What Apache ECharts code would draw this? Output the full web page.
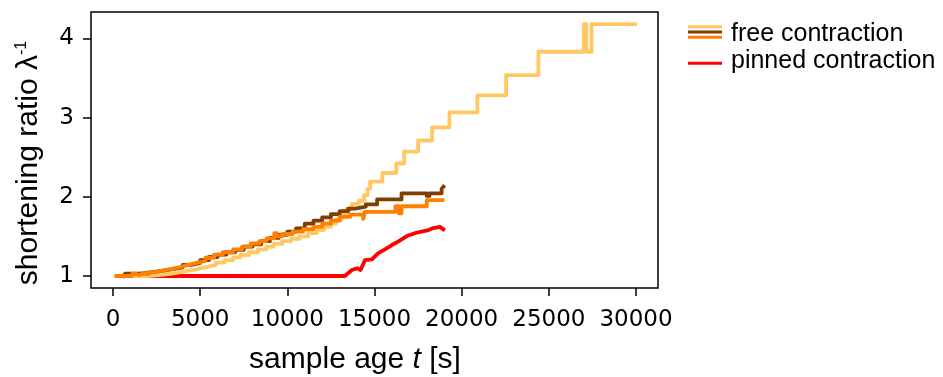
<!DOCTYPE html>
<html><head><meta charset="utf-8">
<script src="https://cdn.jsdelivr.net/npm/echarts@6/dist/echarts.min.js"></script>
<style>html,body{margin:0;padding:0;background:#fff}#c{width:943px;height:377px}</style>
</head><body><div id="c"></div>
<script>
// ---- data ----
const xTicks = [0, 5000, 10000, 15000, 20000, 25000, 30000];
const yTicks = [1, 2, 3, 4];

// free contraction (light yellow)
const yelT = [200, 2000, 2800, 3400, 3900, 4400, 4900, 5400, 5900, 6400, 6900, 7300, 7800, 8300, 8800, 9200, 9700, 10200, 10700, 11200, 11700, 12100, 12500, 12800, 13100, 13400, 13700, 14100, 14400, 14600, 14750, 15450, 16250, 16700, 17500, 18300, 19300, 20900, 22550, 24400, 27000, 27150, 27450, 29950];
const yelR = [1.00, 1.015, 1.03, 1.05, 1.07, 1.09, 1.115, 1.14, 1.17, 1.20, 1.235, 1.265, 1.30, 1.335, 1.37, 1.405, 1.44, 1.47, 1.50, 1.54, 1.58, 1.62, 1.66, 1.71, 1.78, 1.85, 1.91, 1.95, 2.02, 2.10, 2.19, 2.30, 2.42, 2.57, 2.71, 2.875, 3.065, 3.28, 3.535, 3.83, 4.18, 3.83, 4.18, 4.18];

// free contraction (brown)
const brT = [600, 700, 1500, 2000, 2500, 3000, 3500, 4000, 4500, 5000, 5500, 6000, 6500, 7000, 7500, 8000, 8500, 9000, 9500, 10000, 10500, 11000, 11500, 12000, 12500, 13000, 13500, 13900, 14500, 15150, 16550, 18000, 18150, 18850, 18950];
const brR = [1.00, 1.03, 1.04, 1.055, 1.07, 1.09, 1.11, 1.14, 1.165, 1.20, 1.24, 1.27, 1.30, 1.33, 1.37, 1.40, 1.44, 1.48, 1.52, 1.56, 1.60, 1.66, 1.70, 1.74, 1.78, 1.82, 1.85, 1.875, 1.904, 1.967, 2.043, 2.01, 2.043, 2.10, 2.127];

// free contraction (orange)
const orT = [200, 1100, 1300, 1500, 1700, 2000, 2400, 2900, 3400, 3900, 4300, 4800, 5300, 5800, 6300, 6900, 7400, 7900, 8400, 8800, 9250, 9400, 9700, 10300, 10900, 11500, 12000, 12500, 13000, 13600, 14350, 14450, 16200, 16400, 16550, 18000, 18900];
const orR = [1.00, 1.03, 1.01, 1.035, 1.02, 1.05, 1.07, 1.09, 1.115, 1.14, 1.165, 1.19, 1.23, 1.27, 1.30, 1.335, 1.37, 1.41, 1.44, 1.475, 1.54, 1.50, 1.53, 1.56, 1.59, 1.62, 1.66, 1.70, 1.745, 1.775, 1.72, 1.81, 1.88, 1.79, 1.88, 1.958, 1.958];

// pinned contraction (red)
const redT = [1000, 13300, 13700, 14000, 14200, 14450, 14850, 15200, 15600, 16000, 16400, 16850, 17400, 18100, 18300, 18750, 18800, 18950];
const redR = [1.00, 1.00, 1.076, 1.097, 1.076, 1.20, 1.21, 1.286, 1.337, 1.391, 1.441, 1.504, 1.546, 1.58, 1.60, 1.62, 1.643, 1.589];

const C_YEL = '#ffc864', C_BRN = '#7f3f00', C_ORG = '#ff8000', C_RED = '#ff0000';
const pairs = (t, r) => t.map((v, i) => [v, r[i]]);
const lineSeries = (name, t, r, color, step) => ({
  name, type: 'line', data: pairs(t, r), step: step ? 'end' : false,
  symbol: 'none', showSymbol: false, silent: true, animation: false,
  lineStyle: { color, width: 3.8, join: 'round', cap: 'square' }, itemStyle: { color }
});

const chart = echarts.init(document.getElementById('c'), null, { renderer: 'canvas' });
const TXT = '"Liberation Sans", Arial, Helvetica, sans-serif';
const TICKF = '"DejaVu Sans", "Bitstream Vera Sans", sans-serif';
chart.setOption({
  animation: false,
  backgroundColor: '#fff',
  grid: { left: 91, right: 285, top: 12, bottom: 89, show: true, borderColor: '#000', borderWidth: 1.5, backgroundColor: 'transparent' },
  xAxis: {
    type: 'value', min: -1262, max: 31262,
    axisLine: { show: false, onZero: false }, splitLine: { show: false },
    axisTick: { show: true, length: 8, lineStyle: { color: '#000', width: 1.5 }, customValues: xTicks },
    axisLabel: { customValues: xTicks, margin: 21, color: '#000', fontFamily: TICKF, fontSize: 23, formatter: v => String(v) }
  },
  yAxis: {
    type: 'value', min: 0.8485, max: 4.332,
    axisLine: { show: false, onZero: false }, splitLine: { show: false },
    axisTick: { show: true, length: 8, lineStyle: { color: '#000', width: 1.5 }, customValues: yTicks },
    axisLabel: { customValues: yTicks, margin: 17, color: '#000', fontFamily: TICKF, fontSize: 23, formatter: v => String(v) }
  },
  series: [
    lineSeries('pinned contraction', redT, redR, C_RED, false),
    lineSeries('free contraction', yelT, yelR, C_YEL, true),
    lineSeries('free contraction', brT, brR, C_BRN, true),
    lineSeries('free contraction', orT, orR, C_ORG, true)
  ],
  graphic: [
    { type: 'line', shape: { x1: 688, y1: 26.7, x2: 722, y2: 26.7 }, style: { stroke: C_YEL, lineWidth: 3 } },
    { type: 'line', shape: { x1: 688, y1: 32, x2: 722, y2: 32 }, style: { stroke: C_BRN, lineWidth: 3 } },
    { type: 'line', shape: { x1: 688, y1: 37.3, x2: 722, y2: 37.3 }, style: { stroke: C_ORG, lineWidth: 3 } },
    { type: 'text', x: 731, y: 34, style: { text: 'free contraction', font: '25px ' + TXT, fill: '#000', align: 'left', verticalAlign: 'middle' } },
    { type: 'line', shape: { x1: 688, y1: 63.3, x2: 722, y2: 63.3 }, style: { stroke: C_RED, lineWidth: 3 } },
    { type: 'text', x: 731, y: 61, style: { text: 'pinned contraction', font: '25px ' + TXT, fill: '#000', align: 'left', verticalAlign: 'middle' } },
    { type: 'text', x: 355, y: 360, style: {
        text: 'sample age {it|t} [s]', font: '30px ' + TXT, fill: '#000', align: 'center', verticalAlign: 'middle',
        rich: { it: { fontStyle: 'italic', fontSize: 30, fontFamily: TXT, fill: '#000' } } } },
    { type: 'text', x: 29, y: 163, rotation: Math.PI / 2, style: {
        text: 'shortening ratio λ{sup|-1}', font: '30px ' + TXT, fill: '#000', align: 'center', verticalAlign: 'middle',
        rich: { sup: { fontSize: 16, fontFamily: TXT, verticalAlign: 'top', fill: '#000' } } } }
  ]
});
</script></body></html>
